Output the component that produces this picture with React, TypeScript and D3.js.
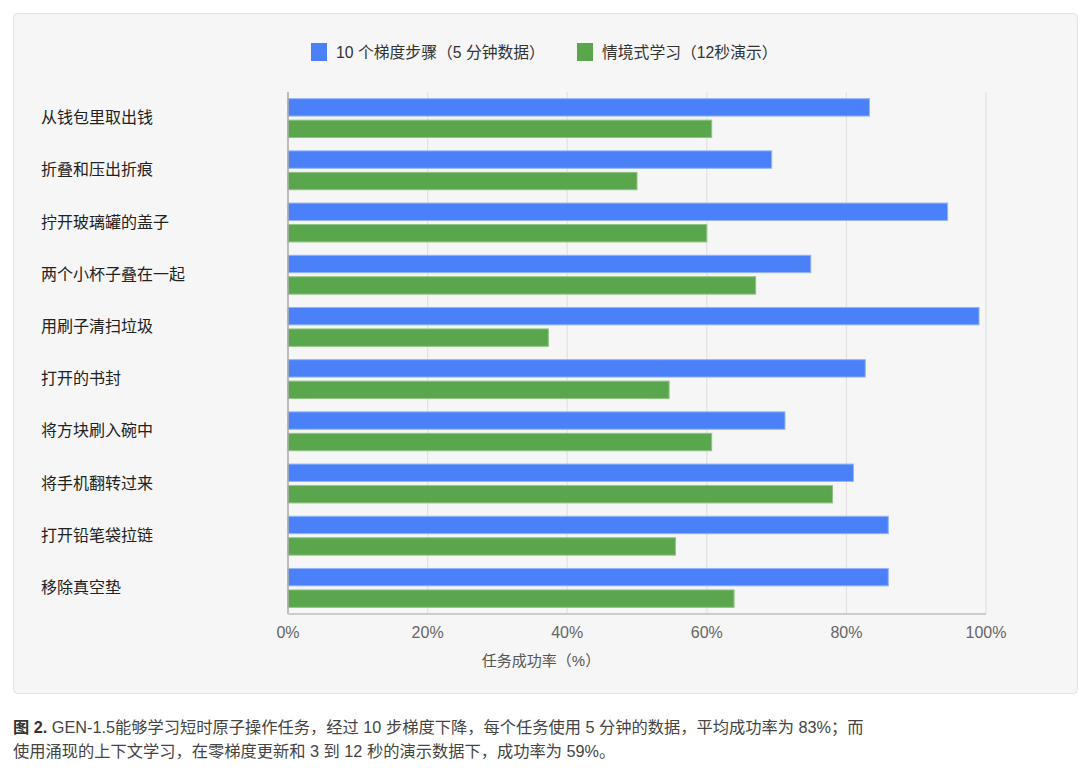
import React from "react";
import * as d3 from "d3";

const categories = [
  "从钱包里取出钱",
  "折叠和压出折痕",
  "拧开玻璃罐的盖子",
  "两个小杯子叠在一起",
  "用刷子清扫垃圾",
  "打开的书封",
  "将方块刷入碗中",
  "将手机翻转过来",
  "打开铅笔袋拉链",
  "移除真空垫",
];
const seriesNames = ["10 个梯度步骤（5 分钟数据）", "情境式学习（12秒演示）"];
const gradientSteps = [83.3, 69.3, 94.5, 74.9, 99.0, 82.7, 71.2, 81.0, 86.0, 86.0];
const inContext = [60.7, 50.0, 60.0, 67.0, 37.3, 54.6, 60.7, 78.0, 55.5, 63.9];
const xTicks = [0, 20, 40, 60, 80, 100];
const xTitle = "任务成功率（%）";
const captionBold = "图 2.";
const captionLine1 = " GEN-1.5能够学习短时原子操作任务，经过 10 步梯度下降，每个任务使用 5 分钟的数据，平均成功率为 83%；而";
const captionLine2 = "使用涌现的上下文学习，在零梯度更新和 3 到 12 秒的演示数据下，成功率为 59%。";

const colors = ["#4a81f8", "#5aa64c"];
const strokes = ["#93b4fb", "#8fc485"];
const FONT = "'Liberation Sans', 'Noto Sans CJK SC', sans-serif";

export default function App() {
  const W = 1080, H = 768;
  const left = 288, right = 986, top = 92, bottom = 614;
  const x = d3.scaleLinear().domain([0, 100]).range([left, right]);
  const y0 = d3.scaleBand<string>().domain(categories).range([top, bottom]).paddingInner(0).paddingOuter(0);
  const y1 = d3.scaleBand<string>().domain(seriesNames).range([0, y0.bandwidth()]).paddingInner(0.19).paddingOuter(0.31);
  const seriesValues = [gradientSteps, inContext];

  return (
    <svg width={W} height={H} style={{ position: "absolute", left: 0, top: 0, fontFamily: FONT }}>
      <rect x={0} y={0} width={W} height={H} fill="#ffffff" />
      <rect x={13.5} y={13.5} width={1064} height={680} rx={4} fill="#f6f6f6" stroke="#e2e2e2" />

      {/* legend */}
      <g>
        <rect x={311} y={43} width={16} height={18} fill={colors[0]} />
        <text x={336} y={52} dominantBaseline="central" fontSize={15.8} fill="#333">{seriesNames[0]}</text>
        <rect x={577} y={43} width={16} height={18} fill={colors[1]} />
        <text x={602} y={52} dominantBaseline="central" fontSize={15.8} fill="#333">{seriesNames[1]}</text>
      </g>

      {/* grid */}
      {xTicks.filter((t) => t > 0).map((t) => (
        <line key={t} x1={x(t)} x2={x(t)} y1={top} y2={bottom} stroke="#e2e2e2" strokeWidth={1.2} />
      ))}

      {/* bars */}
      {categories.map((c, i) => (
        <g key={c} transform={`translate(0,${y0(c)})`}>
          {seriesNames.map((s, k) => (
            <rect
              key={s}
              x={x(0)}
              y={y1(s)}
              width={x(seriesValues[k][i]) - x(0)}
              height={y1.bandwidth()}
              fill={colors[k]}
              stroke={strokes[k]}
              strokeWidth={1}
            />
          ))}
        </g>
      ))}

      {/* axes lines */}
      <line x1={left} x2={left} y1={top} y2={bottom} stroke="#a8a8a8" strokeWidth={1.5} />
      <line x1={left} x2={right} y1={bottom} y2={bottom} stroke="#cccccc" strokeWidth={2} />

      {/* category labels */}
      {categories.map((c) => (
        <text key={c} x={41} y={(y0(c) as number) + y0.bandwidth() / 2 - 0.5} dominantBaseline="central" fontSize={16} fill="#222">
          {c}
        </text>
      ))}

      {/* x tick labels */}
      {xTicks.map((t) => (
        <text key={t} x={x(t)} y={632} textAnchor="middle" dominantBaseline="central" fontSize={16} fill="#666">
          {`${t}%`}
        </text>
      ))}
      <text x={541} y={660} textAnchor="middle" dominantBaseline="central" fontSize={15} fill="#555">{xTitle}</text>

      {/* caption */}
      <text x={13} y={727} dominantBaseline="central" fontSize={16.25} fill="#444">
        <tspan fontWeight="bold" fill="#333">{captionBold}</tspan>
        <tspan>{captionLine1}</tspan>
      </text>
      <text x={13} y={751} dominantBaseline="central" fontSize={16.25} fill="#444">{captionLine2}</text>
    </svg>
  );
}
